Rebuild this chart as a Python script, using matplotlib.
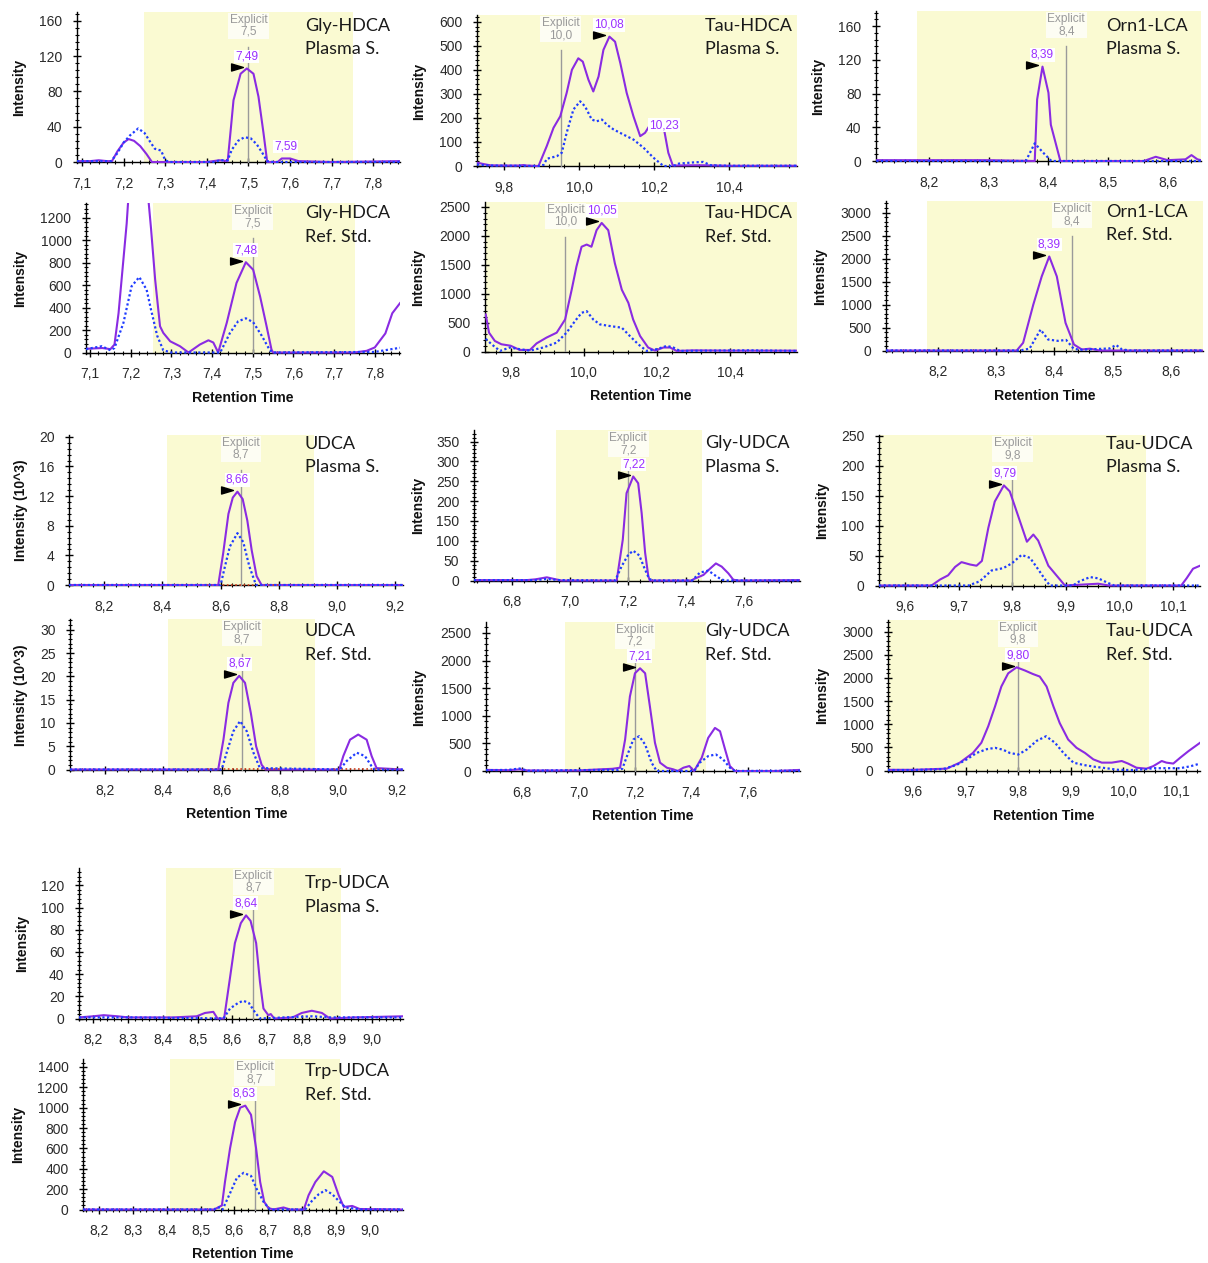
import matplotlib
matplotlib.use("Agg")
import matplotlib.pyplot as plt
from matplotlib.path import Path
from matplotlib import transforms
from matplotlib.ticker import MultipleLocator, FuncFormatter

# --- chromatogram traces, (retention time, intensity) ---
# solid = purple transition, dot = blue dotted transition
gly_hdca_pl_solid = [(7.088, 1), (7.12, 1), (7.14, 2), (7.16, 1), (7.172, 1), (7.185, 12), (7.2, 22),
                     (7.212, 26), (7.225, 24), (7.24, 18), (7.255, 9), (7.268, 0), (7.3, 0), (7.4, 0),
                     (7.43, 2), (7.45, 1), (7.457, 35), (7.464, 70), (7.481, 100), (7.496, 106),
                     (7.512, 100), (7.524, 74), (7.536, 33), (7.545, 0), (7.57, 0), (7.58, 4), (7.6, 4),
                     (7.62, 1), (7.7, 0), (7.864, 1)]
gly_hdca_pl_dot = [(7.088, 1), (7.17, 1), (7.185, 10), (7.2, 22), (7.215, 30), (7.235, 38), (7.25, 33),
                   (7.265, 22), (7.275, 15), (7.29, 13), (7.3, 2), (7.31, 0), (7.42, 0), (7.43, 2),
                   (7.45, 2), (7.46, 14), (7.475, 24), (7.49, 28), (7.505, 27), (7.52, 20), (7.535, 9),
                   (7.545, 1), (7.56, 0), (7.864, 0)]

gly_hdca_rs_solid = [(7.09, 33), (7.13, 40), (7.15, 30), (7.16, 71), (7.17, 350), (7.18, 750), (7.19, 1150),
                     (7.2, 1700), (7.215, 2300), (7.23, 2000), (7.24, 1500), (7.25, 1100), (7.26, 650),
                     (7.272, 234), (7.28, 175), (7.297, 100), (7.321, 56), (7.342, 0), (7.37, 71),
                     (7.391, 109), (7.403, 89), (7.415, 0), (7.436, 264), (7.46, 620), (7.483, 805),
                     (7.501, 738), (7.518, 500), (7.534, 234), (7.546, 27), (7.55, 0), (7.75, 0),
                     (7.78, 15), (7.80, 45), (7.826, 170), (7.843, 350), (7.862, 440)]
gly_hdca_rs_dot = [(7.09, 30), (7.129, 56), (7.15, 20), (7.16, 40), (7.182, 264), (7.202, 590), (7.221, 673),
                   (7.239, 560), (7.25, 380), (7.265, 150), (7.28, 20), (7.3, 0), (7.42, 0), (7.444, 175),
                   (7.464, 278), (7.483, 305), (7.501, 270), (7.522, 150), (7.542, 20), (7.55, 0),
                   (7.8, 5), (7.833, 25), (7.862, 42)]

tau_hdca_pl_solid = [(9.727, 14), (9.745, 8), (9.762, 3), (9.8, 2), (9.84, 2), (9.85, 4), (9.86, 2),
                     (9.891, 0), (9.913, 83), (9.931, 159), (9.949, 207), (9.966, 304), (9.98, 400),
                     (9.997, 448), (10.009, 434), (10.024, 359), (10.037, 310), (10.051, 372),
                     (10.064, 483), (10.08, 538), (10.095, 517), (10.109, 428), (10.126, 304),
                     (10.144, 207), (10.162, 124), (10.175, 138), (10.197, 193), (10.224, 166),
                     (10.237, 55), (10.249, 2), (10.3, 3), (10.33, 3), (10.4, 1), (10.58, 1)]
tau_hdca_pl_dot = [(9.727, 6), (9.76, 2), (9.89, 0), (9.905, 5), (9.913, 30), (9.94, 41), (9.953, 55),
                   (9.966, 138), (9.984, 235), (10.002, 269), (10.015, 248), (10.033, 193), (10.046, 186),
                   (10.06, 193), (10.073, 172), (10.091, 152), (10.117, 131), (10.144, 110), (10.171, 76),
                   (10.197, 35), (10.224, 0), (10.25, 0), (10.265, 10), (10.304, 15), (10.33, 17),
                   (10.35, 3), (10.4, 1), (10.58, 1)]

tau_hdca_rs_solid = [(9.732, 640), (9.741, 326), (9.757, 182), (9.775, 125), (9.8, 100), (9.825, 27),
                     (9.853, 27), (9.871, 140), (9.898, 240), (9.926, 326), (9.949, 554), (9.967, 1069),
                     (9.98, 1469), (9.994, 1812), (10.008, 1850), (10.021, 1812), (10.035, 2098),
                     (10.049, 2224), (10.067, 2098), (10.085, 1527), (10.104, 1069), (10.122, 841),
                     (10.135, 554), (10.154, 268), (10.176, 69), (10.195, 15), (10.218, 69),
                     (10.236, 69), (10.254, 10), (10.3, 20), (10.4, 15), (10.583, 15)]
tau_hdca_rs_dot = [(9.732, 220), (9.748, 125), (9.771, 10), (9.798, 69), (9.825, 40), (9.853, 15),
                   (9.889, 69), (9.926, 154), (9.953, 326), (9.976, 526), (9.994, 669), (10.008, 698),
                   (10.026, 554), (10.044, 469), (10.072, 440), (10.104, 412), (10.126, 268),
                   (10.149, 125), (10.172, 10), (10.199, 40), (10.227, 97), (10.245, 69), (10.263, 10),
                   (10.35, 15), (10.45, 20), (10.583, 10)]

orn1_lca_pl_solid = [(8.111, 1), (8.3, 1), (8.377, 0), (8.381, 73), (8.39, 112), (8.4, 81), (8.404, 43),
                     (8.42, 0), (8.56, 0), (8.58, 5), (8.6, 1), (8.63, 2), (8.64, 7), (8.65, 2), (8.656, 1)]
orn1_lca_pl_dot = [(8.111, 0), (8.362, 0), (8.377, 21), (8.391, 10), (8.405, 0), (8.656, 0)]

orn1_lca_rs_solid = [(8.11, 0), (8.335, 0), (8.346, 167), (8.3635, 998), (8.378, 1612), (8.391, 2046),
                     (8.404, 1612), (8.419, 601), (8.4335, 130), (8.447, 22), (8.461, 40), (8.478, 0),
                     (8.656, 0)]
orn1_lca_rs_dot = [(8.11, 0), (8.34, 0), (8.357, 40), (8.376, 455), (8.389, 239), (8.406, 210), (8.42, 230),
                   (8.433, 40), (8.443, 15), (8.495, 45), (8.506, 120), (8.516, 25), (8.53, 0), (8.656, 0)]

# UDCA in 10^3 counts
udca_pl_solid = [(8.079, 0), (8.592, 0), (8.609, 4.3), (8.627, 9.6), (8.642, 11.8), (8.658, 12.6),
                 (8.676, 11.6), (8.692, 8.7), (8.707, 4.7), (8.724, 1.2), (8.741, 0), (9.2275, 0)]
udca_pl_dot = [(8.079, 0), (8.6, 0), (8.615, 2.5), (8.632, 5.2), (8.658, 7.0), (8.678, 5.8), (8.699, 2.5),
               (8.722, 0), (9.2275, 0)]
udca_pl_red = [(8.55, 0.05), (8.8, 0.05)]

udca_rs_solid = [(8.08, 0), (8.588, 0), (8.606, 6.4), (8.623, 14.3), (8.64, 18.6), (8.66, 20.1),
                 (8.68, 18.6), (8.70, 12.1), (8.718, 5), (8.737, 1), (8.75, 0), (9.003, 0), (9.017, 2.9),
                 (9.04, 6.4), (9.068, 7.5), (9.097, 6.4), (9.114, 2.9), (9.131, 0.3), (9.22, 0)]
udca_rs_dot = [(8.08, 0), (8.6, 0), (8.617, 3.6), (8.64, 8.2), (8.663, 10.4), (8.686, 8.2), (8.709, 3.6),
               (8.731, 0.3), (9.005, 0), (9.028, 1.8), (9.063, 3.6), (9.091, 2.9), (9.114, 0.7),
               (9.125, 0), (9.22, 0)]
udca_rs_red = [(8.55, 0.05), (8.8, 0.05), (8.9, float("nan")), (8.98, 0.05), (9.2, 0.05)]

gly_udca_pl_solid = [(6.668, 1), (6.85, 1), (6.88, 3), (6.919, 8), (6.95, 3), (6.97, 0), (7.16, 0),
                     (7.181, 103), (7.194, 220), (7.217, 262), (7.234, 245), (7.246, 170), (7.258, 70),
                     (7.269, 11), (7.274, 0), (7.42, 0), (7.424, 3), (7.459, 14), (7.482, 30),
                     (7.502, 43), (7.522, 35), (7.545, 18), (7.562, 2), (7.58, 0), (7.792, 1)]
gly_udca_pl_dot = [(6.668, 1), (6.88, 1), (6.92, 4), (6.96, 1), (7.155, 0), (7.177, 36), (7.2, 65),
                   (7.217, 75), (7.238, 63), (7.254, 34), (7.272, 4), (7.285, 0), (7.42, 0), (7.447, 20),
                   (7.476, 25), (7.499, 13), (7.522, 2), (7.54, 0), (7.792, 0)]

gly_udca_rs_solid = [(6.671, 20), (6.75, 15), (6.79, 30), (6.82, 10), (6.9, 10), (7.0, 10), (7.076, 30),
                     (7.12, 40), (7.147, 60), (7.165, 570), (7.182, 1349), (7.2, 1770), (7.218, 1860),
                     (7.236, 1770), (7.253, 1169), (7.271, 511), (7.289, 151), (7.313, 60), (7.336, 30),
                     (7.352, 0), (7.372, 60), (7.393, 90), (7.41, 0), (7.437, 240), (7.46, 600),
                     (7.484, 780), (7.502, 720), (7.52, 390), (7.537, 90), (7.555, 0), (7.7, 0),
                     (7.786, 20)]
gly_udca_rs_dot = [(6.671, 15), (6.75, 20), (6.79, 45), (6.82, 5), (6.9, 10), (7.08, 20), (7.14, 20),
                   (7.155, 40), (7.176, 330), (7.194, 570), (7.215, 630), (7.236, 480), (7.259, 150),
                   (7.277, 0), (7.41, 0), (7.43, 150), (7.46, 270), (7.487, 300), (7.513, 210),
                   (7.537, 60), (7.555, 0), (7.786, 5)]

tau_udca_pl_solid = [(9.551, 0), (9.649, 0), (9.665, 10), (9.68, 17), (9.693, 31), (9.705, 39), (9.721, 35),
                     (9.733, 33), (9.743, 41), (9.755, 96), (9.767, 140), (9.784, 167), (9.795, 157),
                     (9.808, 123), (9.827, 73), (9.839, 85), (9.848, 75), (9.867, 33), (9.882, 17),
                     (9.898, 0), (9.94, 2), (9.96, 3), (9.98, 0), (10.115, 0), (10.125, 12),
                     (10.137, 28), (10.15, 33)]
tau_udca_pl_dot = [(9.551, 0), (9.718, 0), (9.739, 7), (9.761, 25), (9.783, 29), (9.799, 37), (9.817, 51),
                   (9.833, 46), (9.848, 27), (9.861, 10), (9.87, 0), (9.913, 0), (9.925, 7), (9.945, 14),
                   (9.96, 12), (9.979, 4), (9.99, 0), (10.15, 0)]

tau_udca_rs_solid = [(9.552, 15), (9.6, 15), (9.638, 30), (9.664, 40), (9.689, 170), (9.714, 380),
                     (9.73, 600), (9.743, 955), (9.756, 1385), (9.768, 1815), (9.781, 2100),
                     (9.797, 2230), (9.813, 2160), (9.828, 2085), (9.841, 2030), (9.854, 1815),
                     (9.867, 1385), (9.879, 1025), (9.895, 670), (9.911, 490), (9.927, 380),
                     (9.943, 240), (9.959, 170), (9.978, 170), (9.997, 205), (10.009, 150),
                     (10.025, 60), (10.044, 40), (10.057, 95), (10.073, 205), (10.082, 170),
                     (10.095, 150), (10.108, 275), (10.124, 420), (10.146, 600)]
tau_udca_rs_dot = [(9.552, 10), (9.6, 10), (9.657, 30), (9.683, 120), (9.702, 240), (9.721, 380),
                   (9.74, 460), (9.756, 490), (9.771, 450), (9.784, 380), (9.8, 345), (9.816, 450),
                   (9.835, 640), (9.853, 740), (9.87, 600), (9.886, 380), (9.905, 170), (9.924, 120),
                   (9.943, 85), (9.967, 50), (9.99, 15), (10.016, 10), (10.044, 30), (10.057, 50),
                   (10.082, 50), (10.108, 50), (10.127, 90), (10.146, 150)]

trp_udca_pl_solid = [(8.159, 1), (8.2, 2), (8.23, 3), (8.27, 2), (8.3, 1), (8.43, 1), (8.497, 2),
                     (8.521, 5), (8.545, 6), (8.557, 0), (8.576, 0), (8.593, 37), (8.607, 68),
                     (8.624, 86), (8.639, 93), (8.652, 88), (8.668, 68), (8.679, 33), (8.689, 9),
                     (8.703, 3), (8.71, 4), (8.72, 0), (8.773, 1), (8.799, 5), (8.828, 7), (8.857, 5),
                     (8.88, 0), (8.95, 1), (9.09, 2)]
trp_udca_pl_dot = [(8.159, 1), (8.3, 1), (8.574, 0), (8.593, 9), (8.616, 14), (8.631, 16), (8.647, 14),
                   (8.666, 5), (8.679, 0), (8.75, 1), (8.83, 2), (8.88, 1), (9.09, 1)]

trp_udca_rs_solid = [(8.153, 0), (8.54, 0), (8.563, 40), (8.572, 270), (8.587, 600), (8.602, 860),
                     (8.617, 1000), (8.632, 1020), (8.649, 930), (8.664, 600), (8.676, 270),
                     (8.688, 75), (8.7, 15), (8.715, 0), (8.745, 20), (8.765, 0), (8.805, 0),
                     (8.819, 140), (8.839, 270), (8.864, 375), (8.889, 320), (8.908, 140), (8.923, 25),
                     (8.948, 35), (8.97, 5), (9.098, 0)]
trp_udca_rs_dot = [(8.153, 0), (8.54, 0), (8.548, 20), (8.558, 20), (8.565, 0), (8.587, 160), (8.607, 310),
                   (8.627, 360), (8.649, 330), (8.666, 200), (8.686, 75), (8.705, 0), (8.809, 0),
                   (8.829, 85), (8.849, 150), (8.869, 190), (8.889, 150), (8.908, 85), (8.928, 20),
                   (8.953, 10), (8.97, 0), (9.098, 0)]

# compound name, sample name
compounds = ["Gly-HDCA", "Gly-HDCA", "Tau-HDCA", "Tau-HDCA", "Orn1-LCA", "Orn1-LCA",
             "UDCA", "UDCA", "Gly-UDCA", "Gly-UDCA", "Tau-UDCA", "Tau-UDCA", "Trp-UDCA", "Trp-UDCA"]
samples = ["Plasma S.", "Ref. Std."] * 7
# explicit retention time (line position) and its label
explicit_rt = [7.5, 7.5, 9.95, 9.95, 8.43, 8.43, 8.67, 8.67, 7.2, 7.2, 9.8, 9.8, 8.66, 8.66]
explicit_txt = ["7,5", "7,5", "10,0", "10,0", "8,4", "8,4", "8,7", "8,7", "7,2", "7,2", "9,8", "9,8",
                "8,7", "8,7"]
# integration window (peak boundaries)
window_start = [7.25, 7.255, 9.70, 9.70, 8.18, 8.181, 8.417, 8.417, 6.95, 6.95, 9.50, 9.50, 8.409, 8.41]
window_end = [7.75, 7.751, 10.7, 10.7, 8.70, 8.70, 8.922, 8.921, 7.453, 7.452, 10.05, 10.049, 8.911, 8.913]
# peak apex labels: (text, rt, intensity, flagged)
peak_labels = [
    [("7,49", 7.496, 106, True), ("7,59", 7.59, 4, False)],
    [("7,48", 7.483, 805, True)],
    [("10,08", 10.079, 538, True), ("10,23", 10.226, 120, False)],
    [("10,05", 10.049, 2224, True)],
    [("8,39", 8.39, 112, True)],
    [("8,39", 8.391, 2046, True)],
    [("8,66", 8.658, 12.6, True)],
    [("8,67", 8.662, 20.1, True)],
    [("7,22", 7.219, 262, True)],
    [("7,21", 7.216, 1860, True)],
    [("9,79", 9.786, 167, True)],
    [("9,80", 9.799, 2230, True)],
    [("8,64", 8.638, 93, True)],
    [("8,63", 8.629, 1020, True)],
]

solid_series = [gly_hdca_pl_solid, gly_hdca_rs_solid, tau_hdca_pl_solid, tau_hdca_rs_solid,
                orn1_lca_pl_solid, orn1_lca_rs_solid, udca_pl_solid, udca_rs_solid,
                gly_udca_pl_solid, gly_udca_rs_solid, tau_udca_pl_solid, tau_udca_rs_solid,
                trp_udca_pl_solid, trp_udca_rs_solid]
dot_series = [gly_hdca_pl_dot, gly_hdca_rs_dot, tau_hdca_pl_dot, tau_hdca_rs_dot,
              orn1_lca_pl_dot, orn1_lca_rs_dot, udca_pl_dot, udca_rs_dot,
              gly_udca_pl_dot, gly_udca_rs_dot, tau_udca_pl_dot, tau_udca_rs_dot,
              trp_udca_pl_dot, trp_udca_rs_dot]
red_series = {6: udca_pl_red, 7: udca_rs_red}

# --- layout (pixels: left, top, right, bottom of plot area) ---
W, H = 1208, 1263
boxes = [(77, 12, 400, 163), (86, 203, 400, 353.5),
         (477, 15, 797, 167), (485, 202, 797, 352.5),
         (876, 11, 1201, 162), (886, 201, 1203, 351.5),
         (69, 435, 403, 586), (70, 619, 403, 770.5),
         (474, 430, 800, 581.5), (486, 622, 800, 772),
         (879, 435, 1200, 586.5), (888, 620, 1200, 771.5),
         (79, 868, 403, 1019.5), (83, 1059, 403, 1210.5)]
xlims = [(7.088, 7.864), (7.09, 7.862), (9.727, 10.58), (9.73, 10.583), (8.1106, 8.656), (8.11, 8.6556),
         (8.0786, 9.2275), (8.08, 9.2216), (6.668, 7.792), (6.671, 7.786), (9.551, 10.15),
         (9.5524, 10.1458), (8.159, 9.09), (8.1526, 9.098)]
ytops = [170, 1333, 628, 2586, 178, 3254, 20.25, 32.3, 379, 2698, 251, 3252, 135.7, 1478]
ysteps = [40, 200, 100, 500, 40, 500, 4, 5, 50, 500, 50, 500, 20, 200]
xsteps = [0.1, 0.1, 0.2, 0.2, 0.1, 0.1, 0.2, 0.2, 0.2, 0.2, 0.1, 0.1, 0.1, 0.1]
ylabel_x = [19, 20, 419, 418, 818, 820, 21, 21, 418, 419, 822, 822, 22, 18]
title_x = [305, 305, 705, 705, 1106, 1106, 305, 305, 705, 705, 1106, 1106, 305, 305]
title_base = [31, 218, 31, 218, 31, 217, 449, 636, 448, 636, 449, 636, 888, 1076]

PURPLE = "#8a2be2"
LABEL_PURPLE = "#9b30ff"
BLUE = "#1f3cff"
RED = "#d04020"
YELLOW = "#fafad2"
GRAY = "#9a9a9a"
TICK_COLOR = "#2a2a2a"
SANS = "Liberation Sans"

flag = Path([(-1, 0.6), (1, 0), (-1, -0.6), (-1, 0.6)],
            [Path.MOVETO, Path.LINETO, Path.LINETO, Path.CLOSEPOLY])

fig = plt.figure(figsize=(W / 100, H / 100), dpi=100)
fig.patch.set_facecolor("white")

comma = FuncFormatter(lambda v, p: f"{v:.1f}".replace(".", ","))
intfmt = FuncFormatter(lambda v, p: f"{v:g}")

for i in range(14):
    l, t, r, b = boxes[i]
    ax = fig.add_axes([l / W, 1 - b / H, (r - l) / W, (b - t) / H])
    ax.set_facecolor("none")
    hpx = b - t
    ytop = ytops[i]
    ybot = -ytop * 1.0 / hpx          # one pixel below zero so baseline is not clipped
    ax.set_xlim(*xlims[i])
    ax.set_ylim(ybot, ytop)

    # integration window
    ax.axvspan(window_start[i], window_end[i], color=YELLOW, lw=0, zorder=0)

    # traces
    xs, ys = zip(*solid_series[i])
    ax.plot(xs, ys, color=PURPLE, lw=1.5, zorder=3, solid_joinstyle="round")
    if i in red_series:
        xr, yr = zip(*red_series[i])
        ax.plot(xr, yr, color=RED, lw=1.2, ls=(0, (1, 1.5)), zorder=3)
    xd, yd = zip(*dot_series[i])
    ax.plot(xd, yd, color=BLUE, lw=1.6, ls=(0, (1, 1.1)), zorder=4)

    # explicit retention time marker
    y0frac = (0 - ybot) / (ytop - ybot)
    ax.axvline(explicit_rt[i], ymin=y0frac, ymax=1 - 35 / hpx, color=GRAY, lw=1, zorder=2.6)
    ax.annotate("Explicit\n" + explicit_txt[i], xy=(explicit_rt[i], 1),
                xycoords=ax.get_xaxis_transform(), xytext=(0, -2), textcoords="offset pixels",
                ha="center", va="top", fontsize=8.6, family=SANS, color=GRAY, linespacing=1.0,
                zorder=5, bbox=dict(boxstyle="square,pad=0.12", fc="white", ec="none", alpha=0.75))

    # apex labels and flags
    flag_tr = transforms.offset_copy(ax.transData, fig=fig, x=-10, y=1.5, units="dots")
    for txt, rt, h, flagged in peak_labels[i]:
        ax.annotate(txt, xy=(rt, h), xytext=(0, 12), textcoords="offset pixels",
                    ha="center", va="center", fontsize=8.6, family=SANS, color=LABEL_PURPLE,
                    zorder=6, bbox=dict(boxstyle="square,pad=0.08", fc="white", ec="none"))
        if flagged:
            ax.plot([rt], [h], marker=flag, markersize=8.5, color="black", transform=flag_tr,
                    zorder=7, clip_on=False)

    # axes styling
    for s in ("top", "right"):
        ax.spines[s].set_visible(False)
    ax.spines["bottom"].set_position(("data", 0))
    for s in ("left", "bottom"):
        ax.spines[s].set_linewidth(1)
        ax.spines[s].set_zorder(2.5)
    ax.xaxis.set_major_locator(MultipleLocator(xsteps[i]))
    ax.xaxis.set_minor_locator(MultipleLocator(xsteps[i] / 5))
    ax.yaxis.set_major_locator(MultipleLocator(ysteps[i]))
    ax.yaxis.set_minor_locator(MultipleLocator(ysteps[i] / 5))
    ax.xaxis.set_major_formatter(comma)
    ax.yaxis.set_major_formatter(intfmt)
    ax.tick_params(which="major", direction="inout", length=6, width=1, labelsize=10,
                   labelcolor=TICK_COLOR)
    ax.tick_params(which="minor", direction="inout", length=3.5, width=0.8)
    ax.tick_params(axis="y", which="major", pad=7.5)
    ax.tick_params(axis="x", which="major", pad=7.5)
    for lab in ax.get_xticklabels() + ax.get_yticklabels():
        lab.set_family(SANS)

    # y axis label
    ylab = "Intensity (10^3)" if compounds[i] == "UDCA" else "Intensity"
    fig.text(ylabel_x[i] / W, 1 - (t + b) / 2 / H, ylab, rotation=90, ha="center", va="center",
             fontsize=10, family=SANS, fontweight="bold", color="#111111")

    # x axis label under the reference standard panels
    if samples[i] == "Ref. Std.":
        fig.text((l + r) / 2 / W, 1 - (b + 44) / H, "Retention Time", ha="center", va="center",
                 fontsize=10.2, family=SANS, fontweight="bold", color="#111111")

    # compound / sample title
    fig.text(title_x[i] / W, 1 - title_base[i] / H, compounds[i], ha="left", va="baseline",
             fontsize=13, family="Lato", color="#1a1a1a")
    fig.text(title_x[i] / W, 1 - (title_base[i] + 23.5) / H, samples[i], ha="left", va="baseline",
             fontsize=13, family="Lato", color="#1a1a1a")

fig.savefig("out.png", dpi=100)
